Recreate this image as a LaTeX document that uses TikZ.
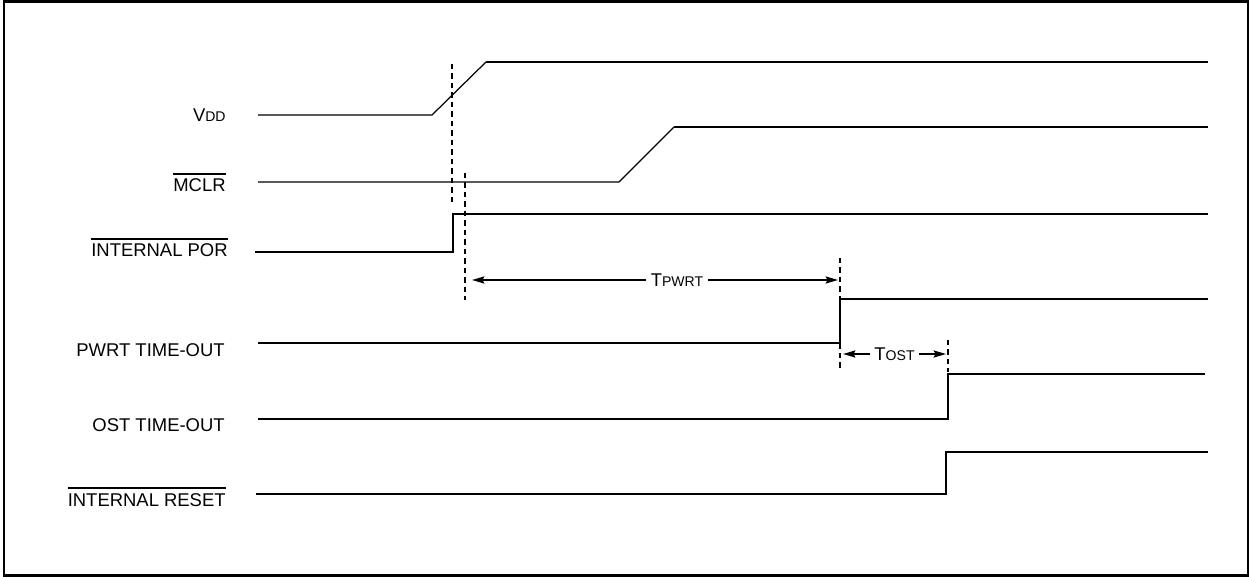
\documentclass[tikz,border=0pt]{standalone}
\usepackage{fontspec}
\setmainfont{Liberation Sans}
\usepackage{tikz}
\usetikzlibrary{arrows.meta}
\newcommand\lo[1]{{\fontsize{8}{9}\selectfont #1}}
\newcommand\ovl[1]{\leavevmode\vbox{\hrule height 1pt\kern 2.6pt\hbox{#1}}}
\tikzset{
  frame/.style={line width=1.2pt},
  sig/.style={line width=1.25pt,line join=miter},
  ramp/.style={line width=0.7pt},
  tick/.style={line width=1.1pt,dash pattern=on 3pt off 2.4pt},
  dim/.style={{Stealth[length=7pt,width=4pt,inset=1pt]}-{Stealth[length=7pt,width=4pt,inset=1pt]},line width=1.1pt},
  lbl/.style={anchor=base east,inner sep=0pt,font=\fontsize{10.5}{12}\selectfont},
  dlbl/.style={fill=white,inner sep=3pt,font=\fontsize{10.5}{12}\selectfont}
}
\begin{document}
\begin{tikzpicture}[x=0.02cm,y=-0.02cm]
  \useasboundingbox (0,0) rectangle (1250,577);
  \draw[frame] (4,1.5) rectangle (1248,575.5);
  \node[lbl] (vdd) at (226,122) {V\lo{DD}};
  \node[lbl] (mclr) at (226,192) {\ovl{MCLR}};
  \node[lbl] (por) at (228,257) {\ovl{INTERNAL POR}};
  \node[lbl] (pwrt) at (225,357) {PWRT TIME-OUT};
  \node[lbl] (ost) at (225,431) {OST TIME-OUT};
  \node[lbl] (rst) at (226,506) {\ovl{INTERNAL RESET}};
  \draw[ramp] (258,115) -- (432,115) -- (486,62);
  \draw[sig] (486,62) -- (1208,62);
  \draw[ramp] (258,182) -- (619,182) -- (674,127);
  \draw[sig] (674,127) -- (1208,127);
  \draw[sig] (255,252) -- (453,252) -- (453,214) -- (1208,214);
  \draw[sig] (258,343) -- (840,343) -- (840,299) -- (1208,299);
  \draw[sig] (258,419) -- (948,419) -- (948,374) -- (1205,374);
  \draw[sig] (256,494) -- (946,494) -- (946,452) -- (1208,452);
  \draw[tick] (452,64) -- (452,205);
  \draw[tick] (465,173) -- (465,300);
  \draw[tick] (840,258) -- (840,368);
  \draw[tick] (948,340) -- (948,372);
  \coordinate (pw1) at (472,280);
  \coordinate (pw2) at (838,280);
  \coordinate (os1) at (843,354);
  \coordinate (os2) at (946,354);
  \draw[dim] (pw1) -- node[dlbl,pos=0.56] (tpw) {T\lo{PWRT}} (pw2);
  \draw[dim] (os1) -- node[dlbl,inner sep=2.5pt] (tos) {T\lo{OST}} (os2);
\end{tikzpicture}
\end{document}
